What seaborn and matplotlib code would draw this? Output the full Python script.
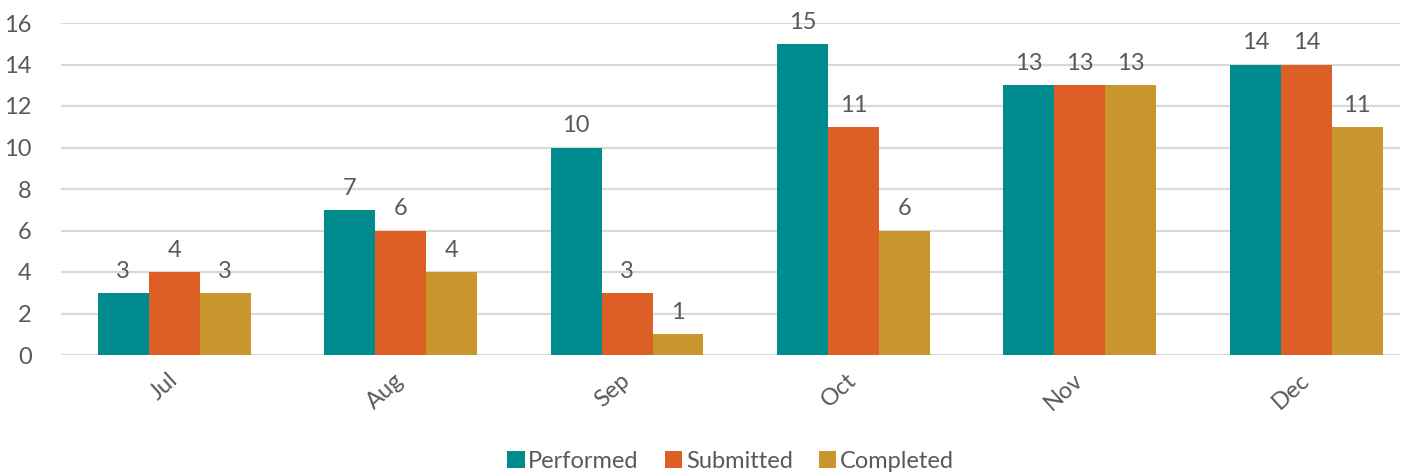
import matplotlib
matplotlib.use("Agg")
import matplotlib.pyplot as plt
import seaborn as sns
import pandas as pd

months = ["Jul", "Aug", "Sep", "Oct", "Nov", "Dec"]
performed = [3, 7, 10, 15, 13, 14]
submitted = [4, 6, 3, 11, 13, 14]
completed = [3, 4, 1, 6, 13, 11]
series_names = ["Performed", "Submitted", "Completed"]
colors = ["#008B8F", "#DE5F25", "#C9952D"]
yticks = [0, 2, 4, 6, 8, 10, 12, 14, 16]

df = pd.DataFrame({
    "Month": months * 3,
    "Series": [s for s in series_names for _ in months],
    "Value": performed + submitted + completed,
})

sns.set_theme(style="white")
plt.rcParams["font.family"] = ["Lato", "DejaVu Sans"]
text_color = "#595959"
fs = 17

fig = plt.figure(figsize=(14.02, 4.75), dpi=100)
ax = fig.add_axes([61 / 1402, 1 - 355 / 475, (1400 - 61) / 1402, (355 - 23) / 475])

sns.barplot(data=df, x="Month", y="Value", hue="Series", order=months,
            hue_order=series_names, palette=colors, width=0.675,
            saturation=1, linewidth=0, edgecolor="none", ax=ax, legend=True)

ax.set_ylim(0, 16)
ax.set_xlim(-0.5, 5.414)
ax.set_yticks(yticks)
ax.yaxis.grid(True, color="#D9D9D9", linewidth=1.6)
ax.set_axisbelow(True)
for sp in ax.spines.values():
    sp.set_visible(False)
ax.set_xlabel("")
ax.set_ylabel("")
ax.tick_params(axis="y", labelsize=fs, labelcolor=text_color, length=0, pad=21)
ax.tick_params(axis="x", labelsize=fs, labelcolor=text_color, length=0, pad=16)
for lbl in ax.get_xticklabels():
    lbl.set_rotation(42)
    lbl.set_ha("right")
    lbl.set_va("center")
    lbl.set_rotation_mode("anchor")

for container in ax.containers:
    ax.bar_label(container, fmt="%d", padding=8, fontsize=fs, color=text_color)

handles, labels = ax.get_legend_handles_labels()
ax.legend(handles, labels, loc="center", bbox_to_anchor=(0.5, -0.32),
          ncol=3, frameon=False, fontsize=fs, labelcolor=text_color,
          handlelength=0.75, handleheight=0.75, handletextpad=0.15,
          columnspacing=1.1, borderaxespad=0)

fig.savefig("out.png", dpi=100, facecolor="white")
